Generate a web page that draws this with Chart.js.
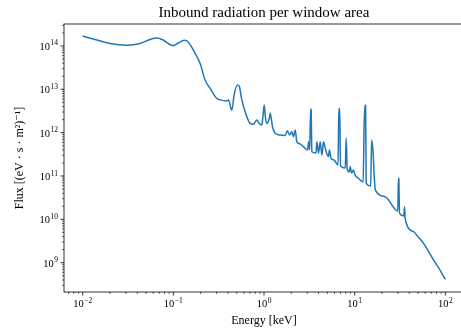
<!DOCTYPE html>
<html>
<head>
<meta charset="utf-8">
<script src="https://cdn.jsdelivr.net/npm/chart.js@4.4.1/dist/chart.umd.min.js"></script>
<style>
  html, body { margin: 0; padding: 0; background: #fff; overflow: hidden; }
  canvas { display: block; }
</style>
</head>
<body>
<canvas id="fluxChart" width="464" height="328"></canvas>
<script>
// photon energy [keV]
const energy = [
  0.010, 0.0137, 0.020, 0.0306, 0.043, 0.0553, 0.066, 0.077, 0.1, 0.113,
  0.132, 0.146, 0.166, 0.197, 0.224, 0.254, 0.301, 0.328, 0.389, 0.405,
  0.442, 0.468, 0.509, 0.538, 0.56, 0.619, 0.703, 0.764, 0.834, 0.883,
  0.946, 0.977, 1.005, 1.03, 1.07, 1.14, 1.17, 1.2, 1.24, 1.33,
  1.51, 1.71, 1.81, 1.91, 2.03, 2.11, 2.21, 2.3, 2.5, 2.72,
  3.03, 3.1, 3.19, 3.27, 3.31, 3.37, 3.75, 3.83, 3.99, 4.17, 4.35,
  4.53, 4.73, 5.14, 5.27, 5.5, 5.94, 6.25, 6.55, 6.67, 6.84,
  6.98, 7.87, 8.07, 8.27, 8.7, 8.93, 9.27, 9.7, 10.1, 10.9,
  12.4, 12.7, 13.0, 13.2, 13.4, 15.0, 15.4, 16.0, 16.4, 16.9, 21.7,
  29.9, 30.4, 30.7, 31.2, 34.8, 35.5, 36.1, 44.6, 50.2, 57.5, 64.8, 74.1, 85.7,
  100
];
// flux [(eV s m^2)^-1]
const flux = [
  1.7e14, 1.41e14, 1.14e14, 1.04e14, 1.14e14, 1.41e14, 1.53e14, 1.37e14, 1.02e14, 1.17e14,
  1.35e14, 1.24e14, 8.1e13, 4.0e13, 1.64e13, 1.06e13, 6.2e12, 5.7e12, 5.4e12, 5.7e12,
  3.3e12, 7.4e12, 1.26e13, 1.13e13, 6.8e12, 3.05e12, 1.64e12, 1.56e12, 1.96e12, 1.64e12,
  1.5e12, 2.56e12, 4.35e12, 2.56e12, 1.64e12, 2.07e12, 2.8e12, 2.18e12, 1.37e12, 9.7e11,
  8.8e11, 8.6e11, 1.11e12, 8.8e11, 1.05e12, 8.1e11, 1.15e12, 6.2e11, 5.5e11, 4.75e11,
  4.0e11, 6.2e11, 4.0e11, 3.5e12, 3.4e12, 3.64e11, 3.4e11, 6.2e11, 3.34e11, 6.2e11, 3.05e11,
  6.2e11, 4.4e11, 2.79e11, 4.0e11, 2.54e11, 2.34e11, 2.0e11, 1.8e11, 2.15e12, 3.65e12,
  1.7e11, 1.53e11, 7.4e11, 1.45e11, 1.24e11, 1.64e11, 1.17e11, 1.38e11, 1.06e11, 9.0e10,
  7.3e10, 1.26e12, 4.35e12, 4.2e12, 6.9e10, 5.9e10, 6.8e11, 3.34e11, 1.06e11, 4.8e10, 3.33e10,
  1.56e10, 8.9e10, 8.7e10, 1.4e10, 1.2e10, 1.96e10, 1.02e10, 5.2e9, 3.93e9, 2.8e9, 1.87e9, 1.16e9, 7.2e8,
  4.15e8
];
// labelled decades and their exponents
const xDecades = [-2, -1, 0, 1, 2];
const xTickExponents = ['\u22122', '\u22121', '0', '1', '2'];
const yDecades = [9, 10, 11, 12, 13, 14];
const yTickExponents = ['9', '10', '11', '12', '13', '14'];

const lineColor = '#1f77b4';
const serif = "'Liberation Serif', 'DejaVu Serif', serif";

// log ticks 1..9 x 10^n inside [min,max], powers of ten flagged major
function logTicks(min, max) {
  const ticks = [];
  for (let d = Math.floor(Math.log10(min)); d <= Math.ceil(Math.log10(max)); d++) {
    for (let k = 1; k < 10; k++) {
      const v = k * Math.pow(10, d);
      if (v >= min && v <= max) ticks.push({ value: v, major: k === 1 });
    }
  }
  return ticks;
}

// "10" with a raised exponent, baseline at y
function drawPower(ctx, exp, x, y, align) {
  const base = '10.5px ' + serif, sup = '7.5px ' + serif;
  ctx.font = base;
  const wb = ctx.measureText('10').width;
  ctx.font = sup;
  const we = ctx.measureText(exp).width;
  const w = wb + 0.5 + we;
  const left = align === 'right' ? x - w : x - w / 2;
  ctx.textAlign = 'left';
  ctx.textBaseline = 'alphabetic';
  ctx.font = base;
  ctx.fillText('10', left, y);
  ctx.font = sup;
  ctx.fillText(exp, left + wb + 0.5, y - 4.5);
}

// spines, outward tick marks and decade labels like matplotlib
const axesFrame = {
  id: 'axesFrame',
  afterDraw(chart) {
    const { ctx, chartArea: a, scales } = chart;
    ctx.save();
    ctx.strokeStyle = '#000';
    ctx.fillStyle = '#000';
    scales.x.ticks.forEach(t => {
      const px = scales.x.getPixelForValue(t.value);
      ctx.lineWidth = t.major ? 0.8 : 0.6;
      ctx.beginPath();
      ctx.moveTo(px, a.bottom);
      ctx.lineTo(px, a.bottom + (t.major ? 3.5 : 2));
      ctx.stroke();
    });
    scales.y.ticks.forEach(t => {
      const py = scales.y.getPixelForValue(t.value);
      ctx.lineWidth = t.major ? 0.8 : 0.6;
      ctx.beginPath();
      ctx.moveTo(a.left, py);
      ctx.lineTo(a.left - (t.major ? 3.5 : 2), py);
      ctx.stroke();
    });
    xDecades.forEach((d, i) => {
      const px = scales.x.getPixelForValue(Math.pow(10, d));
      drawPower(ctx, xTickExponents[i], px, a.bottom + 15, 'center');
    });
    yDecades.forEach((d, i) => {
      const py = scales.y.getPixelForValue(Math.pow(10, d));
      drawPower(ctx, yTickExponents[i], a.left - 6, py + 4, 'right');
    });
    ctx.lineWidth = 0.8;
    ctx.strokeRect(a.left, a.top, a.right - a.left, a.bottom - a.top);
    ctx.restore();
  }
};

const ctx = document.getElementById('fluxChart').getContext('2d');
Chart.defaults.font.family = serif;
Chart.defaults.color = '#000';

new Chart(ctx, {
  type: 'line',
  data: {
    datasets: [{
      data: energy.map((e, i) => ({ x: e, y: flux[i] })),
      borderColor: lineColor,
      borderWidth: 1.5,
      pointRadius: 0,
      cubicInterpolationMode: 'monotone',
      fill: false
    }]
  },
  options: {
    responsive: false,
    animation: false,
    layout: { padding: 0 },
    plugins: {
      legend: { display: false },
      tooltip: { enabled: false },
      title: {
        display: true,
        text: 'Inbound radiation per window area',
        fullSize: false,
        color: '#000',
        font: { size: 15, weight: 'normal', family: serif },
        padding: { top: 4, bottom: 2 }
      }
    },
    scales: {
      x: {
        type: 'logarithmic',
        bounds: 'data',
        min: Math.pow(10, -2.206),
        max: Math.pow(10, 2.206),
        grid: { display: false, drawTicks: false },
        border: { display: false },
        afterBuildTicks: s => { s.ticks = logTicks(s.min, s.max); },
        afterFit: s => { s.height = 36; },
        ticks: { display: false },
        title: {
          display: true,
          text: 'Energy [keV]',
          font: { size: 12 },
          padding: { top: 0, bottom: 0 }
        }
      },
      y: {
        type: 'logarithmic',
        bounds: 'data',
        min: Math.pow(10, 8.324),
        max: Math.pow(10, 14.507),
        grid: { display: false, drawTicks: false },
        border: { display: false },
        afterBuildTicks: s => { s.ticks = logTicks(s.min, s.max); },
        afterFit: s => { s.width = 64; },
        ticks: { display: false },
        title: {
          display: true,
          text: 'Flux [(eV · s · m²)⁻¹]',
          font: { size: 12 },
          padding: { top: 12.8, bottom: 0 }
        }
      }
    }
  },
  plugins: [axesFrame]
});
</script>
</body>
</html>
